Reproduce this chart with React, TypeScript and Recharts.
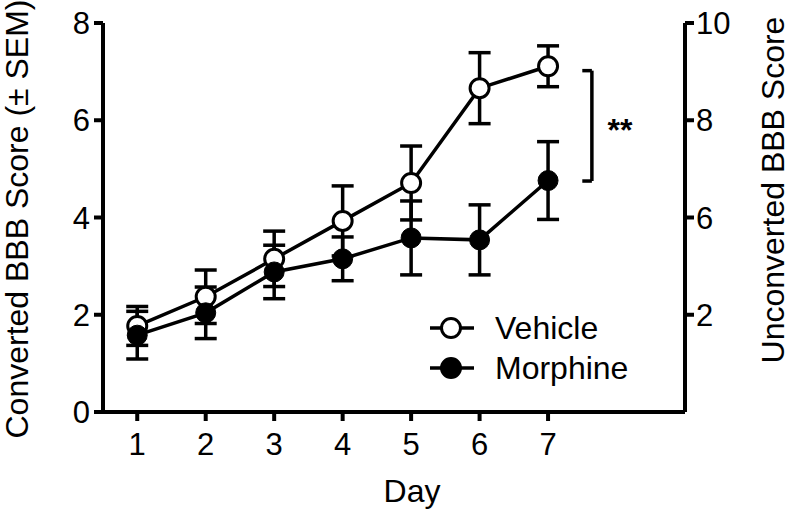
import {
  LineChart,
  Line,
  XAxis,
  YAxis,
  ErrorBar,
  ReferenceLine,
  ReferenceDot,
} from "recharts";

const days = [1, 2, 3, 4, 5, 6, 7];
const vehicleMean = [1.77, 2.37, 3.15, 3.93, 4.71, 6.66, 7.11];
const vehicleSem = [0.4, 0.55, 0.57, 0.72, 0.76, 0.73, 0.42];
const morphineMean = [1.58, 2.04, 2.88, 3.15, 3.58, 3.54, 4.76];
const morphineSem = [0.49, 0.53, 0.55, 0.45, 0.76, 0.72, 0.8];

const leftTicks = [0, 2, 4, 6, 8];
const rightTicks = [2, 4, 6, 8];
const rightTickLabels = ["2", "6", "8", "10"];

// significance bracket between the two day-7 points
const bracketX = [7.5, 7.64];
const bracketY = [7.02, 4.75];
const starsPos = { x: 8.05, y: 5.57 };

const data = days.map((d, i) => ({
  day: d,
  vehicle: vehicleMean[i],
  vehicleErr: vehicleSem[i],
  morphine: morphineMean[i],
  morphineErr: morphineSem[i],
}));

const font = "'Liberation Sans', Arial, sans-serif";
const tickStyle = { fontSize: 31, fill: "#000", fontFamily: font };

const legendItems = [
  { name: "Vehicle", fill: "#fff" },
  { name: "Morphine", fill: "#000" },
];

const LegendBox = () => (
  <div
    style={{
      position: "absolute",
      left: 428,
      top: 308,
      fontFamily: font,
      fontSize: 32,
      color: "#000",
    }}
  >
    {legendItems.map((s) => (
      <div key={s.name} style={{ display: "flex", alignItems: "center", height: 40 }}>
        <svg width={67} height={26}>
          <line x1={2} y1={13} x2={46} y2={13} stroke="#000" strokeWidth={3.5} />
          <circle cx={23} cy={13} r={9.5} fill={s.fill} stroke="#000" strokeWidth={3} />
        </svg>
        <span>{s.name}</span>
      </div>
    ))}
  </div>
);

const App = () => {
  return (
    <div style={{ position: "absolute", left: 0, top: 0, width: 792, height: 515, fontFamily: font }}>
      <LineChart
        width={792}
        height={515}
        data={data}
        margin={{ top: 23, right: 0, left: 0, bottom: 0 }}
      >
        <XAxis
          dataKey="day"
          type="number"
          domain={[0.5, 9]}
          ticks={days}
          height={103}
          stroke="#000"
          strokeWidth={4}
          tickSize={9}
          tickMargin={12}
          tick={tickStyle}
          label={{
            content: () => (
              <text x={412} y={502} textAnchor="middle" fontSize={32} fontFamily={font} fill="#000">
                Day
              </text>
            ),
          }}
        />
        <YAxis
          yAxisId="left"
          domain={[0, 8]}
          ticks={leftTicks}
          width={103}
          stroke="#000"
          strokeWidth={4}
          tickSize={9}
          tickMargin={4}
          tick={tickStyle}
          label={{
            content: () => (
              <text
                x={28}
                y={219}
                transform="rotate(-90, 28, 219)"
                textAnchor="middle"
                fontSize={32}
                fontFamily={font}
                fill="#000"
              >
                Converted BBB Score (± SEM)
              </text>
            ),
          }}
        />
        <YAxis
          yAxisId="right"
          orientation="right"
          domain={[0, 8]}
          ticks={rightTicks}
          tickFormatter={(v: number) => rightTickLabels[rightTicks.indexOf(v)]}
          width={107}
          stroke="#000"
          strokeWidth={4}
          tickSize={9}
          tickMargin={2}
          tick={tickStyle}
          label={{
            content: () => (
              <text
                x={784}
                y={190}
                transform="rotate(-90, 784, 190)"
                textAnchor="middle"
                fontSize={32}
                fontFamily={font}
                fill="#000"
              >
                Unconverted BBB Score
              </text>
            ),
          }}
        />
        {/* hidden series so the right axis gets its ticks */}
        <Line
          yAxisId="right"
          dataKey="vehicle"
          stroke="none"
          dot={false}
          activeDot={false}
          legendType="none"
          isAnimationActive={false}
        />
        <ReferenceLine
          yAxisId="left"
          segment={[
            { x: bracketX[0], y: bracketY[0] },
            { x: bracketX[1], y: bracketY[0] },
          ]}
          stroke="#000"
          strokeWidth={3.5}
        />
        <ReferenceLine
          yAxisId="left"
          segment={[
            { x: bracketX[1], y: bracketY[0] },
            { x: bracketX[1], y: bracketY[1] },
          ]}
          stroke="#000"
          strokeWidth={3.5}
        />
        <ReferenceLine
          yAxisId="left"
          segment={[
            { x: bracketX[0], y: bracketY[1] },
            { x: bracketX[1], y: bracketY[1] },
          ]}
          stroke="#000"
          strokeWidth={3.5}
        />
        <ReferenceDot
          yAxisId="left"
          x={starsPos.x}
          y={starsPos.y}
          r={0}
          shape={(p: any) => (
            <text x={p.cx} y={p.cy} textAnchor="middle" fontSize={32} fontWeight="bold" fontFamily={font} fill="#000">
              **
            </text>
          )}
        />
        <Line
          yAxisId="left"
          dataKey="vehicle"
          type="linear"
          stroke="#000"
          strokeWidth={3.5}
          dot={{ r: 9.5, fill: "#fff", stroke: "#000", strokeWidth: 3 }}
          activeDot={false}
          isAnimationActive={false}
        >
          <ErrorBar dataKey="vehicleErr" direction="y" width={11} stroke="#000" strokeWidth={3.5} />
        </Line>
        <Line
          yAxisId="left"
          dataKey="morphine"
          type="linear"
          stroke="#000"
          strokeWidth={3.5}
          dot={{ r: 10, fill: "#000", stroke: "#000", strokeWidth: 1 }}
          activeDot={false}
          isAnimationActive={false}
        >
          <ErrorBar dataKey="morphineErr" direction="y" width={11} stroke="#000" strokeWidth={3.5} />
        </Line>
      </LineChart>
      <LegendBox />
    </div>
  );
};

export default App;
